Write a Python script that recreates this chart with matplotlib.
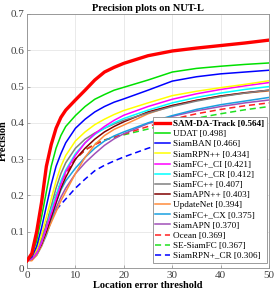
import matplotlib
matplotlib.use("Agg")
import matplotlib.pyplot as plt

thresholds = [0, 1, 2, 3, 4, 5, 6, 7, 8, 10, 12, 14, 16, 18, 20, 25, 30, 35, 40, 45, 50]

names = ["SAM-DA-Track", "UDAT", "SiamBAN", "SiamRPN++", "SiamFC+_CI", "SiamFC+_CR",
         "SiamFC++", "SiamAPN++", "UpdateNet", "SiamFC+_CX", "SiamAPN", "Ocean",
         "SE-SiamFC", "SiamRPN+_CR"]
scores = [0.564, 0.498, 0.466, 0.434, 0.421, 0.412, 0.407, 0.403, 0.394, 0.375,
          0.370, 0.369, 0.367, 0.306]

sam_da = [0.02, 0.04, 0.10, 0.18, 0.28, 0.34, 0.385, 0.415, 0.435, 0.463, 0.49, 0.518, 0.54, 0.553, 0.564, 0.585, 0.598, 0.606, 0.613, 0.62, 0.628]
udat = [0.02, 0.035, 0.075, 0.14, 0.21, 0.28, 0.33, 0.365, 0.39, 0.42, 0.445, 0.465, 0.478, 0.49, 0.498, 0.518, 0.54, 0.55, 0.556, 0.561, 0.565]
siamban = [0.02, 0.03, 0.06, 0.11, 0.17, 0.23, 0.28, 0.315, 0.345, 0.385, 0.41, 0.43, 0.445, 0.457, 0.466, 0.49, 0.515, 0.527, 0.535, 0.54, 0.545]
siamrpnpp = [0.02, 0.03, 0.05, 0.09, 0.14, 0.19, 0.24, 0.28, 0.31, 0.35, 0.375, 0.395, 0.41, 0.423, 0.434, 0.455, 0.475, 0.487, 0.497, 0.506, 0.516]
siamfc_ci = [0.02, 0.025, 0.04, 0.07, 0.11, 0.15, 0.19, 0.23, 0.265, 0.31, 0.345, 0.37, 0.39, 0.407, 0.421, 0.445, 0.465, 0.48, 0.492, 0.502, 0.511]
siamfc_cr = [0.02, 0.025, 0.04, 0.07, 0.11, 0.16, 0.20, 0.24, 0.27, 0.315, 0.345, 0.368, 0.385, 0.40, 0.412, 0.435, 0.455, 0.47, 0.482, 0.492, 0.50]
siamfcpp = [0.02, 0.03, 0.05, 0.08, 0.12, 0.17, 0.22, 0.26, 0.29, 0.33, 0.355, 0.372, 0.385, 0.397, 0.407, 0.427, 0.445, 0.46, 0.472, 0.482, 0.49]
siamapnpp = [0.02, 0.025, 0.04, 0.065, 0.10, 0.14, 0.18, 0.22, 0.25, 0.30, 0.33, 0.355, 0.375, 0.39, 0.403, 0.43, 0.448, 0.462, 0.474, 0.483, 0.49]
updatenet = [0.02, 0.02, 0.035, 0.06, 0.095, 0.125, 0.155, 0.185, 0.21, 0.26, 0.305, 0.34, 0.365, 0.382, 0.394, 0.425, 0.447, 0.462, 0.474, 0.482, 0.488]
siamfc_cx = [0.02, 0.025, 0.035, 0.06, 0.09, 0.13, 0.18, 0.215, 0.24, 0.275, 0.305, 0.33, 0.35, 0.364, 0.375, 0.40, 0.42, 0.437, 0.45, 0.46, 0.47]
siamapn = [0.02, 0.025, 0.04, 0.065, 0.095, 0.13, 0.165, 0.195, 0.22, 0.26, 0.29, 0.315, 0.338, 0.356, 0.37, 0.398, 0.418, 0.433, 0.445, 0.455, 0.463]
ocean = [0.02, 0.03, 0.05, 0.08, 0.12, 0.16, 0.20, 0.235, 0.26, 0.30, 0.325, 0.34, 0.352, 0.361, 0.369, 0.39, 0.41, 0.425, 0.437, 0.447, 0.455]
se_siamfc = [0.02, 0.03, 0.05, 0.08, 0.12, 0.165, 0.20, 0.235, 0.265, 0.30, 0.325, 0.342, 0.353, 0.36, 0.367, 0.383, 0.398, 0.413, 0.425, 0.436, 0.445]
siamrpn_cr = [0.02, 0.03, 0.05, 0.09, 0.12, 0.14, 0.16, 0.175, 0.19, 0.22, 0.245, 0.268, 0.283, 0.295, 0.306, 0.33, 0.35, 0.366, 0.38, 0.392, 0.403]

series = [sam_da, udat, siamban, siamrpnpp, siamfc_ci, siamfc_cr, siamfcpp, siamapnpp,
          updatenet, siamfc_cx, siamapn, ocean, se_siamfc, siamrpn_cr]

colors = ["#FF0000", "#00E000", "#0000FF", "#FFFF00", "#FF00FF", "#00FFFF", "#808080",
          "#800000", "#FF8C3C", "#1AA0E0", "#A050B8", "#FF2020", "#20E020", "#0000FF"]
styles = ["-"] * 11 + ["--"] * 3
widths = [2.4] + [1.1] * 13

plt.rcParams["font.family"] = ["Liberation Serif", "DejaVu Serif"]

fig = plt.figure(figsize=(2.74, 2.93), dpi=100)
ax = fig.add_axes([0.0985, 0.0853, 0.8835, 0.867])

for i in reversed(range(len(series))):
    ax.plot(thresholds, series[i], color=colors[i], linestyle=styles[i],
            linewidth=widths[i], dashes=(4, 2.5) if styles[i] == "--" else (None, None),
            label=f"{names[i]} [{scores[i]:.3f}]", zorder=3 - i * 0.1)

ax.set_xlim(0, 50)
ax.set_ylim(0, 0.7)
ax.set_xticks([0, 10, 20, 30, 40, 50])
ax.set_yticks([0, 0.1, 0.2, 0.3, 0.4, 0.5, 0.6, 0.7])
ax.set_yticklabels(["0", "0.1", "0.2", "0.3", "0.4", "0.5", "0.6", "0.7"])
ax.grid(True, color="#E6E6E6", linewidth=0.6)
ax.set_axisbelow(True)
for s in ax.spines.values():
    s.set_color("#8C8C8C")
    s.set_linewidth(0.6)
ax.tick_params(direction="in", length=2.5, width=0.5, colors="#8C8C8C",
               labelcolor="#404040", labelsize=8, pad=2)

ax.set_title("Precision plots on NUT-L", fontsize=7.5, fontweight="bold", pad=2)
ax.set_xlabel("Location error threshold", fontsize=7.5, fontweight="bold", labelpad=1)
ax.set_ylabel("Precision", fontsize=7.5, fontweight="bold", labelpad=2)

handles, labels = ax.get_legend_handles_labels()
handles = handles[::-1]
labels = labels[::-1]
leg = ax.legend(handles, labels, loc="lower right", bbox_to_anchor=(0.99, 0.02),
                fontsize=6.6, frameon=True, fancybox=False, edgecolor="#8C8C8C",
                framealpha=1.0, handlelength=1.6, handletextpad=0.3, labelspacing=0.19,
                borderpad=0.3, borderaxespad=0.0)
leg.set_zorder(20)
leg.get_frame().set_linewidth(0.6)
leg.get_texts()[0].set_fontweight("bold")

fig.savefig("out.png", dpi=100)
